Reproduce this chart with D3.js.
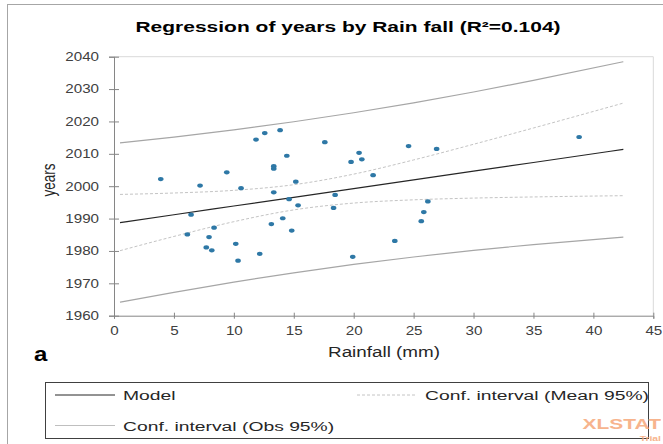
<!DOCTYPE html>
<html>
<head>
<meta charset="utf-8">
<script src="https://cdn.jsdelivr.net/npm/d3@7"></script>
<style>
    body { margin: 0; background: #fff; }
    svg { display: block; font-family: "Liberation Sans", Arial, sans-serif; }
    .axis path, .axis line { stroke: #868686; }
    .axis text { fill: #404040; font-size: 12px; font-family: "Liberation Sans", Arial, sans-serif; }
</style>
</head>
<body>
<div id="chart"></div>
<script>
// observations (rainfall in mm, year)
const rainfall = [3.90, 7.18, 6.43, 6.12, 8.35, 7.93, 7.70, 8.16, 9.41, 10.60,
                  10.16, 10.35, 11.85, 12.58, 13.86, 12.16, 13.33, 13.33, 13.33, 14.42,
                  15.17, 14.61, 15.36, 14.08, 13.13, 14.83, 17.59, 18.45, 18.32, 19.78,
                  20.45, 20.68, 21.62, 24.58, 26.92, 19.92, 23.43, 26.19, 25.85, 25.64,
                  38.81];
const years = [2002.2, 2000.2, 1991.2, 1985.1, 1987.2, 1984.3, 1981.1, 1980.2, 2004.3, 1999.4,
               1982.2, 1977.0, 2014.4, 2016.4, 2017.3, 1979.1, 2006.2, 2005.4, 1998.1, 2009.4,
               2001.4, 1996.0, 1994.1, 1990.1, 1988.3, 1986.3, 2013.6, 1997.3, 1993.3, 2007.5,
               2010.3, 2008.3, 2003.4, 2012.4, 2011.5, 1978.2, 1983.1, 1995.3, 1992.0, 1989.2,
               2015.2];

// model and confidence bands, read along the rainfall axis
const fit_x = [0.5, 5, 10, 15, 20, 25, 30, 35, 42.5];
const model = [1988.77, 1991.19, 1993.88, 1996.57, 1999.26, 2001.95, 2004.64, 2007.33, 2011.37];
const mean_upper = [1997.46, 1997.90, 1998.72, 2000.46, 2003.73, 2008.11, 2012.95, 2017.98, 2025.67];
const mean_lower = [1980.08, 1984.48, 1989.04, 1992.68, 1994.79, 1995.79, 1996.33, 1996.68, 1997.07];
const obs_upper = [2013.36, 2015.15, 2017.38, 2019.90, 2022.69, 2025.76, 2029.10, 2032.68, 2038.45];
const obs_lower = [1964.18, 1967.23, 1970.38, 1973.24, 1975.83, 1978.14, 1980.18, 1981.98, 1984.29];

const x_ticks = [0, 5, 10, 15, 20, 25, 30, 35, 40, 45];
const y_ticks = [1960, 1970, 1980, 1990, 2000, 2010, 2020, 2030, 2040];

const W = 663, H = 444;
const SX = 1.33; // the source picture is stretched sideways

const svg = d3.select("#chart")
    .append("svg")
    .attr("width", W)
    .attr("height", H);

const scale_x = d3.scaleLinear().domain([0, 45]).range([114, 653.3]);
const scale_y = d3.scaleLinear().domain([1960, 2040]).range([315.7, 56.7]);

// text helper, stretched horizontally like the picture
function addText(g, x, y, str, size, opts = {}) {
    const sx = opts.sx || SX;
    return g.append("text")
        .attr("transform", `translate(${x},${y}) scale(${sx},1)`)
        .attr("font-size", size)
        .attr("font-weight", opts.bold ? "bold" : null)
        .attr("text-anchor", opts.anchor || "start")
        .style("fill", opts.fill || "#262626")
        .text(str);
}

// outer frame
svg.append("rect")
    .attr("x", 7.5).attr("y", 4.5)
    .attr("width", 700).attr("height", 500)
    .attr("fill", "none")
    .attr("stroke", "#a6a6a6");

// plot area border (top and right)
svg.append("path")
    .attr("d", `M${scale_x(0)},${scale_y(2040)}H${scale_x(45)}V${scale_y(1960)}`)
    .attr("fill", "none")
    .attr("stroke", "#d9d9d9");

// axes
const axis_x = svg.append("g")
    .attr("class", "axis")
    .attr("transform", `translate(0,${scale_y(1960)})`)
    .call(d3.axisBottom(scale_x).tickValues(x_ticks).tickSizeOuter(0).tickSize(3));
axis_x.selectAll(".tick line").attr("y1", -3);
axis_x.selectAll(".tick text")
    .attr("y", 19.5)
    .attr("dy", null)
    .attr("transform", `scale(${SX * 0.95},1)`);

const axis_y = svg.append("g")
    .attr("class", "axis")
    .attr("transform", `translate(${scale_x(0)},0)`)
    .call(d3.axisLeft(scale_y).tickValues(y_ticks).tickSizeOuter(0).tickSize(5).tickFormat(d3.format("d")));
axis_y.selectAll(".tick line").attr("x1", 5);
axis_y.selectAll(".tick text")
    .attr("x", -15 / (SX * 0.95))
    .attr("transform", `scale(${SX * 0.95},1)`);

// model and bands
const line = d3.line()
    .x(d => scale_x(d[0]))
    .y(d => scale_y(d[1]))
    .curve(d3.curveMonotoneX);

const bands = [
    {values: obs_upper, stroke: "#a6a6a6", width: 1.2, dash: null},
    {values: obs_lower, stroke: "#a6a6a6", width: 1.2, dash: null},
    {values: mean_upper, stroke: "#c4c4c4", width: 1, dash: "3,2"},
    {values: mean_lower, stroke: "#c4c4c4", width: 1, dash: "3,2"},
    {values: model, stroke: "#262626", width: 1.2, dash: null}
];

svg.append("g")
    .selectAll("path")
    .data(bands)
    .join("path")
    .attr("d", d => line(fit_x.map((x, i) => [x, d.values[i]])))
    .attr("fill", "none")
    .attr("stroke", d => d.stroke)
    .attr("stroke-width", d => d.width)
    .attr("stroke-dasharray", d => d.dash);

// observations
svg.append("g")
    .selectAll("ellipse")
    .data(rainfall.map((r, i) => ({r: r, y: years[i]})))
    .join("ellipse")
    .attr("cx", d => scale_x(d.r))
    .attr("cy", d => scale_y(d.y))
    .attr("rx", 2.8)
    .attr("ry", 2.1)
    .attr("fill", "#2e78a6");

// titles
addText(svg, 348, 32, "Regression of years by Rain fall (R²=0.104)", 15, {bold: true, anchor: "middle", sx: 1.4, fill: "#000"});
addText(svg, 384, 357, "Rainfall (mm)", 14.5, {anchor: "middle", sx: 1.3});
addText(svg, 34, 361, "a", 20, {bold: true, sx: 1.2, fill: "#000"});

svg.append("text")
    .attr("transform", `translate(55,180) rotate(-90) scale(1,${SX})`)
    .attr("font-size", 13.5)
    .attr("text-anchor", "middle")
    .style("fill", "#262626")
    .text("years");

// legend
const legend = svg.append("g");
legend.append("rect")
    .attr("x", 45.5).attr("y", 382.5)
    .attr("width", 603).attr("height", 56)
    .attr("fill", "none")
    .attr("stroke", "#404040");

const legend_items = [
    {label: "Model", x: 55, y: 395, stroke: "#262626", dash: null},
    {label: "Conf. interval (Mean 95%)", x: 357, y: 395, stroke: "#c4c4c4", dash: "3,2"},
    {label: "Conf. interval (Obs 95%)", x: 55, y: 425.5, stroke: "#bfbfbf", dash: null}
];
legend_items.forEach(d => {
    legend.append("line")
        .attr("x1", d.x).attr("x2", d.x + 60)
        .attr("y1", d.y).attr("y2", d.y)
        .attr("stroke", d.stroke)
        .attr("stroke-dasharray", d.dash);
    addText(legend, d.x + 68, d.y + 5, d.label, 13.5, {sx: 1.43});
});

// watermark
addText(svg, 661, 429, "XLSTAT", 15, {bold: true, sx: 1.4, fill: "#f6a87a", anchor: "end"}).attr("opacity", 0.85);
addText(svg, 661, 441, "Trial", 8, {bold: true, sx: 1.3, fill: "#f6a87a", anchor: "end"}).attr("opacity", 0.85);
</script>
</body>
</html>
